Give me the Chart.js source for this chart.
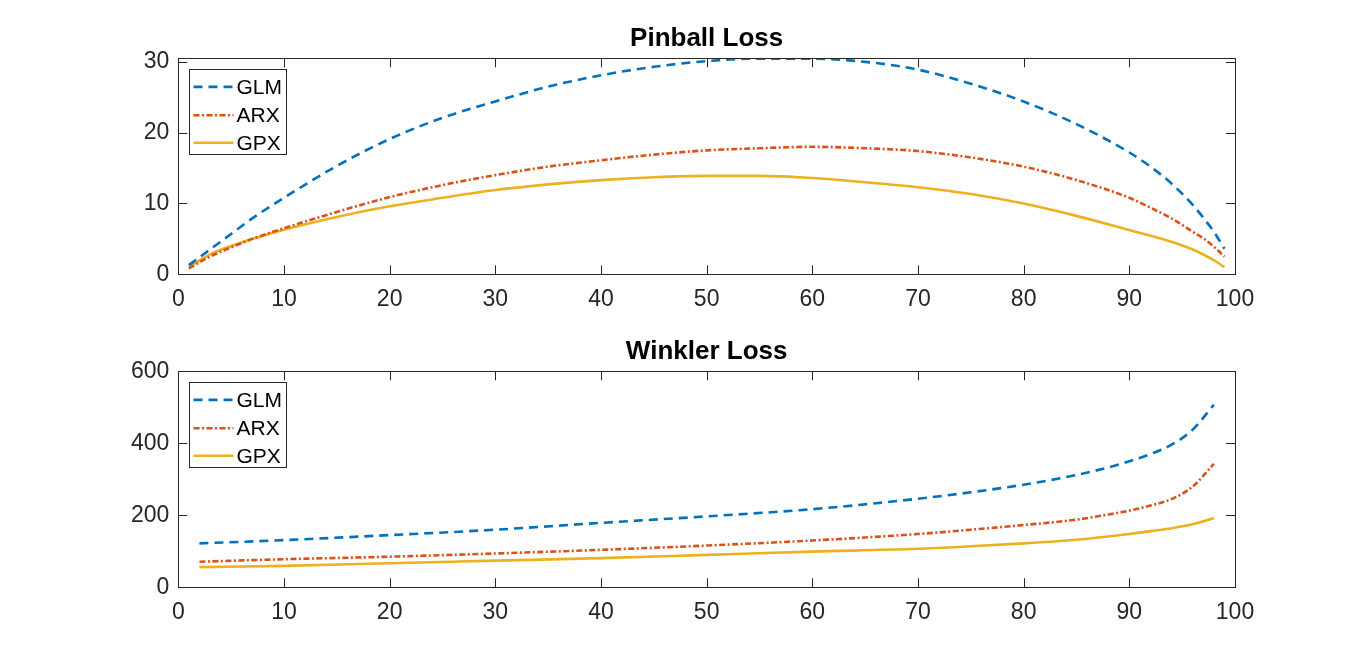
<!DOCTYPE html>
<html>
<head>
<meta charset="utf-8">
<script src="https://cdn.jsdelivr.net/npm/chart.js@4"></script>
<style>
  html, body { margin: 0; padding: 0; background: #fff; overflow: hidden; }
  .box { position: absolute; left: 0; width: 1366px; height: 314px; }
  #box1 { top: 0; }
  #box2 { top: 313.4px; }
</style>
</head>
<body>
<div class="box" id="box1"><canvas id="pinballChart" width="1366" height="314"></canvas></div>
<div class="box" id="box2"><canvas id="winklerChart" width="1366" height="314"></canvas></div>
<script>
// top panel: pinball loss
var pinballX = [1, 3, 5, 7, 10, 15, 20, 25, 30, 35, 40, 45, 50, 55, 60, 65, 70, 75, 80, 85, 90, 92, 94, 96, 97, 98, 99];
var pinballGLM = [1.3, 3.5, 5.7, 7.9, 10.8, 15.3, 19.1, 22.1, 24.4, 26.5, 28.1, 29.3, 30.1, 30.45, 30.45, 30.0, 28.9, 26.9, 24.4, 21.2, 17.2, 15.2, 12.8, 9.8, 8.0, 6.0, 3.6];
var pinballARX = [0.85, 2.5, 3.8, 5.0, 6.5, 8.8, 10.9, 12.6, 14.0, 15.2, 16.1, 16.9, 17.5, 17.8, 18.0, 17.8, 17.4, 16.5, 15.2, 13.3, 10.8, 9.4, 7.9, 6.0, 5.1, 3.9, 2.5];
var pinballGPX = [1.05, 2.8, 4.0, 5.0, 6.3, 8.1, 9.6, 10.8, 11.9, 12.7, 13.3, 13.7, 13.9, 13.9, 13.6, 13.0, 12.3, 11.35, 10.0, 8.25, 6.25, 5.45, 4.6, 3.5, 2.8, 2.0, 1.0];

// bottom panel: winkler loss
var winklerX = [2, 10, 20, 30, 40, 50, 60, 70, 75, 80, 85, 88, 90, 92, 94, 96, 98];
var winklerGLM = [122, 131, 145, 160, 179, 197, 217, 246, 264, 285, 312, 333, 350, 370, 396, 438, 507];
var winklerARX = [71, 78, 85, 94, 104, 116, 130, 148, 160, 173, 188, 202, 213, 227, 245, 280, 343];
var winklerGPX = [56, 59.5, 67, 74, 81, 90, 99, 107, 114, 122, 132, 141, 148, 156, 164, 175, 192];

var seriesNames = ['GLM', 'ARX', 'GPX'];
var xTicks = [0, 10, 20, 30, 40, 50, 60, 70, 80, 90, 100];

var FONT = '"Liberation Sans", Arial, Helvetica, sans-serif';
var AXIS_COLOR = '#262626';

function toPoints(xs, ys) {
    return xs.map(function (x, i) { return { x: x, y: ys[i] }; });
}

// box round the axes with inward ticks, like matlab
var frameTicks = {
    id: 'frameTicks',
    afterDatasetsDraw: function (chart) {
        var ctx = chart.ctx, a = chart.chartArea;
        var xs = chart.scales.x, ys = chart.scales.y;
        var len = 9;
        ctx.save();
        ctx.strokeStyle = AXIS_COLOR;
        ctx.lineWidth = 1;
        ctx.setLineDash([]);
        ctx.beginPath();
        xs.ticks.forEach(function (t) {
            var px = Math.round(xs.getPixelForValue(t.value)) + 0.5;
            ctx.moveTo(px, a.bottom); ctx.lineTo(px, a.bottom - len);
            ctx.moveTo(px, a.top); ctx.lineTo(px, a.top + len);
        });
        ys.ticks.forEach(function (t) {
            var py = Math.round(ys.getPixelForValue(t.value)) + 0.5;
            ctx.moveTo(a.left, py); ctx.lineTo(a.left + len, py);
            ctx.moveTo(a.right, py); ctx.lineTo(a.right - len, py);
        });
        ctx.stroke();
        ctx.strokeRect(Math.round(a.left) + 0.5, Math.round(a.top) + 0.5,
            Math.round(a.right - a.left), Math.round(a.bottom - a.top));
        ctx.restore();
    }
};

// legend box in the top left corner of the axes
var boxLegend = {
    id: 'boxLegend',
    afterDraw: function (chart) {
        var ctx = chart.ctx, a = chart.chartArea;
        var left = Math.round(a.left + 11) + 0.5, top = Math.round(a.top + 11) + 0.5;
        var rows = [17.4, 45.7, 73.3];
        ctx.save();
        ctx.fillStyle = '#fff';
        ctx.fillRect(left, top, 97, 85);
        ctx.strokeStyle = AXIS_COLOR;
        ctx.lineWidth = 1;
        ctx.strokeRect(left, top, 97, 85);
        chart.data.datasets.forEach(function (ds, i) {
            var y = top + rows[i];
            ctx.strokeStyle = ds.borderColor;
            ctx.lineWidth = ds.borderWidth;
            ctx.setLineDash(ds.borderDash || []);
            ctx.beginPath();
            ctx.moveTo(left + 4, y);
            ctx.lineTo(left + 44, y);
            ctx.stroke();
            ctx.setLineDash([]);
            ctx.fillStyle = '#000';
            ctx.font = '21px ' + FONT;
            ctx.textBaseline = 'middle';
            ctx.fillText(ds.label, left + 47, y + 1);
        });
        ctx.restore();
    }
};

function makeChart(id, title, xs, glm, arx, gpx, yMax, yStep) {
    var ctx = document.getElementById(id).getContext('2d');
    return new Chart(ctx, {
        type: 'line',
        data: {
            datasets: [{
                label: seriesNames[0],
                data: toPoints(xs, glm),
                borderColor: '#0072BD',
                borderWidth: 2.6,
                borderDash: [9, 6]
            }, {
                label: seriesNames[1],
                data: toPoints(xs, arx),
                borderColor: '#D95319',
                borderWidth: 2.6,
                borderDash: [6, 2.5, 2, 2.5]
            }, {
                label: seriesNames[2],
                data: toPoints(xs, gpx),
                borderColor: '#EDB120',
                borderWidth: 2.6
            }]
        },
        options: {
            responsive: false,
            animation: false,
            devicePixelRatio: 1,
            layout: { padding: { left: 0, right: 131, top: 0, bottom: 0 } },
            elements: { point: { radius: 0 }, line: { cubicInterpolationMode: 'monotone' } },
            plugins: {
                legend: { display: false },
                tooltip: { enabled: false },
                title: {
                    display: true,
                    text: title,
                    fullSize: false,
                    color: '#000',
                    font: { family: FONT, size: 26, weight: 'bold', lineHeight: 1.2 },
                    padding: { top: 23.5, bottom: 3.6 }
                }
            },
            scales: {
                x: {
                    type: 'linear',
                    min: 0,
                    max: 100,
                    grid: { display: false, drawTicks: false },
                    border: { display: false },
                    afterFit: function (s) { s.height = 39.7; },
                    afterBuildTicks: function (s) { s.ticks = xTicks.map(function (v) { return { value: v }; }); },
                    ticks: {
                        color: AXIS_COLOR,
                        padding: 12,
                        maxRotation: 0,
                        font: { family: FONT, size: 23 }
                    }
                },
                y: {
                    min: 0,
                    max: yMax,
                    grid: { display: false, drawTicks: false },
                    border: { display: false },
                    afterFit: function (s) { s.width = 178.3; },
                    ticks: {
                        stepSize: yStep,
                        includeBounds: false,
                        color: AXIS_COLOR,
                        padding: 9,
                        font: { family: FONT, size: 23 }
                    }
                }
            }
        },
        plugins: [frameTicks, boxLegend]
    });
}

makeChart('pinballChart', 'Pinball Loss', pinballX, pinballGLM, pinballARX, pinballGPX, 30.5, 10);
makeChart('winklerChart', 'Winkler Loss', winklerX, winklerGLM, winklerARX, winklerGPX, 600, 200);
</script>
</body>
</html>
